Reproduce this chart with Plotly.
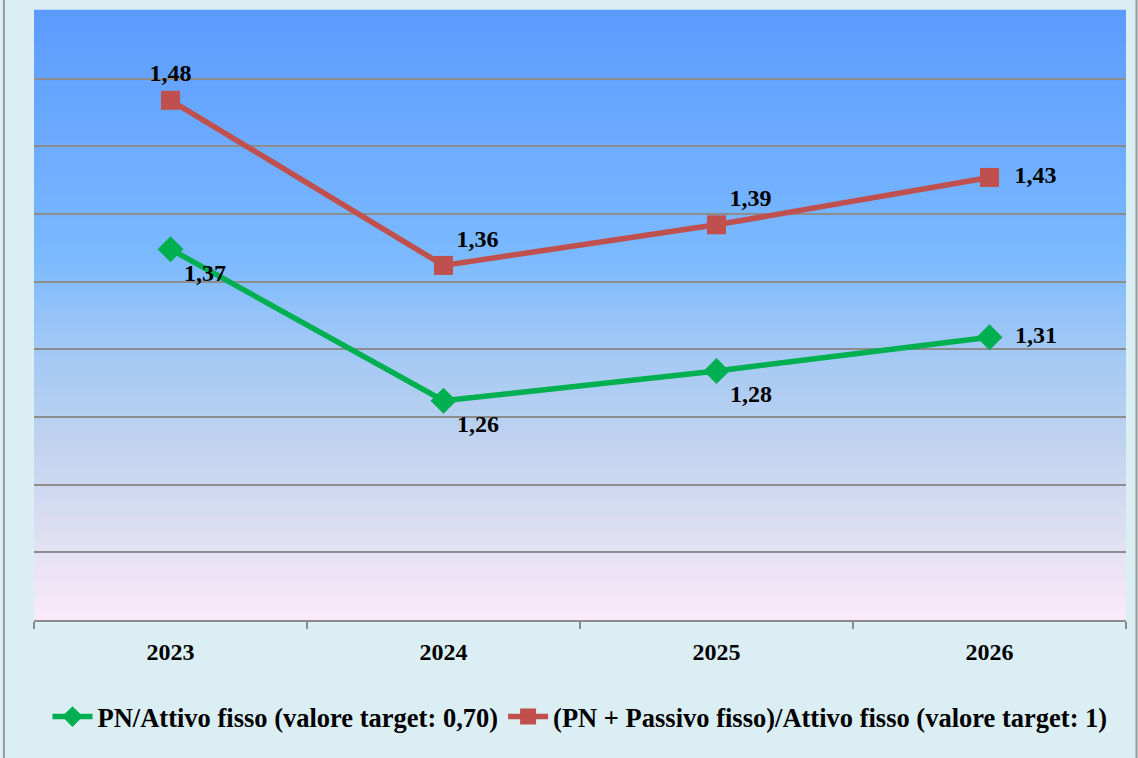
import plotly.graph_objects as go

years = ["2023", "2024", "2025", "2026"]
pn_attivo = [1.374, 1.262, 1.284, 1.309]
pn_passivo = [1.484, 1.362, 1.392, 1.427]
name_green = "PN/Attivo fisso (valore target: 0,70)"
name_red = "(PN + Passivo fisso)/Attivo fisso (valore target: 1)"
green_pos = ["bottom right", "bottom right", "bottom right", "middle right"]
red_pos = ["top center", "top right", "top right", "middle right"]

def fmt(v, pos):
    s = f"{v:.2f}".replace(".", ",")
    return ("\u00a0\u00a0" + s) if pos == "middle right" else s

FONT = "Liberation Serif"
fig = go.Figure()

# gradient background strips
stops = [(0.0, (251, 234, 248)), (0.15, (220, 222, 242)), (0.3, (190, 210, 238)),
         (0.45, (160, 200, 245)), (0.6, (123, 185, 255)), (1.0, (91, 155, 255))]
def col(t):
    for (a, ca), (b, cb) in zip(stops[:-1], stops[1:]):
        if a <= t <= b:
            f = (t - a) / (b - a)
            return "rgb(%d,%d,%d)" % tuple(round(ca[i] + (cb[i] - ca[i]) * f) for i in range(3))
    return "rgb(91,155,255)"
N = 120
shapes = []
for i in range(N):
    y0 = i / N
    y1 = (i + 1) / N
    shapes.append(dict(type="rect", xref="paper", yref="paper", x0=0, x1=1, y0=y0, y1=y1 + 0.002,
                       fillcolor=col((y0 + y1) / 2), line=dict(width=0), layer="below"))
# outer border lines
for xp in [-0.0275, 1.0096]:
    shapes.append(dict(type="line", xref="paper", yref="paper", x0=xp, x1=xp, y0=-0.23, y1=1.02,
                       line=dict(color="#9a9a9a", width=2)))

fig.add_trace(go.Scatter(
    x=years, y=pn_attivo, name=name_green, mode="lines+markers+text",
    line=dict(color="#00B050", width=5.5),
    marker=dict(symbol="diamond", size=20, color="#00B050"),
    text=[fmt(v, p) for v, p in zip(pn_attivo, green_pos)], textposition=green_pos,
    textfont=dict(family=FONT, size=24, color="black", weight="bold"),
    cliponaxis=False,
))
fig.add_trace(go.Scatter(
    x=years, y=pn_passivo, name=name_red, mode="lines+markers+text",
    line=dict(color="#C0504D", width=5.5),
    marker=dict(symbol="square", size=19, color="#C0504D"),
    text=[fmt(v, p) for v, p in zip(pn_passivo, red_pos)], textposition=red_pos,
    textfont=dict(family=FONT, size=24, color="black", weight="bold"),
    cliponaxis=False,
))

fig.update_layout(
    width=1138, height=758,
    margin=dict(l=34, r=12, t=11, b=138),
    paper_bgcolor="#DBEEF3",
    plot_bgcolor="rgba(0,0,0,0)",
    shapes=shapes,
    font=dict(family=FONT, size=24, color="black", weight="bold"),
    showlegend=True,
    legend=dict(orientation="h", x=0.5, xanchor="center", y=-0.159, yanchor="middle",
                font=dict(family=FONT, size=26.5, color="black", weight="bold"),
                bgcolor="rgba(0,0,0,0)", itemwidth=40, tracegroupgap=0),
    xaxis=dict(type="category", range=[-0.5, 3.5], showgrid=False,
               showline=True, linecolor="#8C8C8C", linewidth=2,
               ticks="outside", tickson="boundaries", ticklen=7, tickcolor="#8C8C8C", tickwidth=2,
               ticklabelstandoff=9,
               tickfont=dict(family=FONT, size=24, color="black", weight="bold")),
    yaxis=dict(range=[1.1, 1.55], dtick=0.05, tick0=1.1, showticklabels=False,
               showgrid=True, gridcolor="#8C8C8C", gridwidth=2, zeroline=False, showline=False),
)

fig.write_html("out.html", config={"displayModeBar": False},
               post_script="document.body.style.margin='0';")
